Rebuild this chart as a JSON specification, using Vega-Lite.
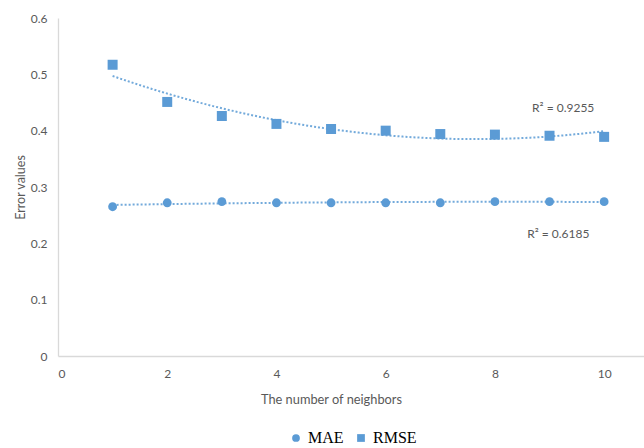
{
  "$schema": "https://vega.github.io/schema/vega-lite/v6.json",
  "width": 586,
  "height": 338,
  "autosize": {"type": "none"},
  "padding": {"left": 58, "top": 18, "right": 0, "bottom": 92},
  "background": "white",
  "config": {
    "view": {"stroke": null},
    "font": "Lato"
  },
  "data": {
    "values": [
      {"k": 1, "series": "MAE", "value": 0.265},
      {"k": 2, "series": "MAE", "value": 0.272},
      {"k": 3, "series": "MAE", "value": 0.274},
      {"k": 4, "series": "MAE", "value": 0.272},
      {"k": 5, "series": "MAE", "value": 0.272},
      {"k": 6, "series": "MAE", "value": 0.272},
      {"k": 7, "series": "MAE", "value": 0.272},
      {"k": 8, "series": "MAE", "value": 0.274},
      {"k": 9, "series": "MAE", "value": 0.274},
      {"k": 10, "series": "MAE", "value": 0.274},
      {"k": 1, "series": "RMSE", "value": 0.517},
      {"k": 2, "series": "RMSE", "value": 0.451},
      {"k": 3, "series": "RMSE", "value": 0.426},
      {"k": 4, "series": "RMSE", "value": 0.412},
      {"k": 5, "series": "RMSE", "value": 0.403},
      {"k": 6, "series": "RMSE", "value": 0.400},
      {"k": 7, "series": "RMSE", "value": 0.394},
      {"k": 8, "series": "RMSE", "value": 0.393},
      {"k": 9, "series": "RMSE", "value": 0.391},
      {"k": 10, "series": "RMSE", "value": 0.389}
    ]
  },
  "encoding": {
    "x": {
      "field": "k", "type": "quantitative",
      "scale": {"domain": [0, 10.73], "nice": false, "zero": false},
      "axis": {
        "values": [0, 2, 4, 6, 8, 10],
        "title": "The number of neighbors",
        "grid": false, "ticks": false,
        "domainColor": "#d9d9d9", "domainWidth": 1.3,
        "labelColor": "#595959", "labelFontSize": 12, "labelPadding": 12,
        "labelFont": "Lato",
        "titleColor": "#595959", "titleFontSize": 12.8, "titleFontWeight": "normal",
        "titleFont": "Lato",
        "titlePadding": 14,
        "titleX": 273
      }
    },
    "y": {
      "field": "value", "type": "quantitative",
      "scale": {"domain": [0, 0.6], "nice": false},
      "axis": {
        "values": [0, 0.1, 0.2, 0.3, 0.4, 0.5, 0.6],
        "format": ".1~f",
        "title": "Error values",
        "grid": false, "ticks": false,
        "domainColor": "#d9d9d9", "domainWidth": 1.3,
        "labelColor": "#595959", "labelFontSize": 12, "labelPadding": 11,
        "labelFont": "Lato",
        "titleColor": "#595959", "titleFontSize": 12.5, "titleFontWeight": "normal",
        "titleFont": "Lato",
        "titlePadding": 3
      }
    }
  },
  "layer": [
    {
      "transform": [
        {"regression": "value", "on": "k", "groupby": ["series"], "method": "poly", "order": 2, "extent": [1, 10]}
      ],
      "mark": {"type": "line", "color": "#5B9BD5", "strokeWidth": 2, "strokeDash": [2, 2], "opacity": 0.85},
      "encoding": {
        "detail": {"field": "series"}
      }
    },
    {
      "transform": [{"filter": "datum.series === 'MAE'"}],
      "mark": {"type": "point", "filled": true, "color": "#5B9BD5", "opacity": 1, "strokeWidth": 0, "size": 78},
      "encoding": {
        "shape": {
          "field": "series", "type": "nominal",
          "scale": {"domain": ["MAE", "RMSE"], "range": ["circle", "square"]},
          "legend": {
            "title": null,
            "orient": "none",
            "legendX": 230,
            "legendY": 412,
            "direction": "horizontal",
            "symbolFillColor": "#5B9BD5",
            "symbolStrokeWidth": 0,
            "symbolSize": 60,
            "labelFont": "Liberation Serif",
            "labelFontSize": 16,
            "labelColor": "#000000",
            "columnPadding": 9,
            "symbolOffset": 0,
            "labelOffset": 4
          }
        }
      }
    },
    {
      "transform": [{"filter": "datum.series === 'RMSE'"}],
      "mark": {"type": "point", "filled": true, "color": "#5B9BD5", "opacity": 1, "strokeWidth": 0, "size": 100},
      "encoding": {
        "shape": {"field": "series", "type": "nominal"}
      }
    },
    {
      "data": {
        "values": [
          {"k": 9.25, "value": 0.44, "label": "R² = 0.9255"},
          {"k": 9.16, "value": 0.216, "label": "R² = 0.6185"}
        ]
      },
      "mark": {"type": "text", "font": "Lato", "fontSize": 12, "color": "#595959", "align": "center", "baseline": "middle"},
      "encoding": {
        "text": {"field": "label"}
      }
    }
  ]
}
